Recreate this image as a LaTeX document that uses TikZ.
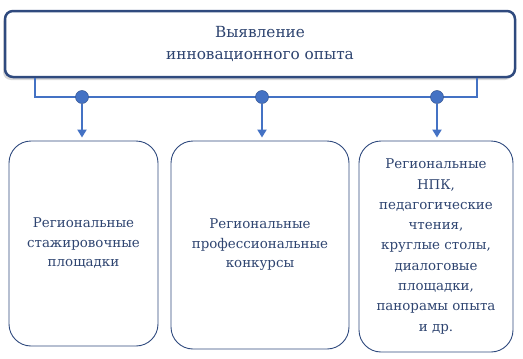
\documentclass[tikz,border=0pt]{standalone}
\usepackage{fontspec}
\setmainfont{DejaVu Serif}
\usetikzlibrary{arrows.meta,calc,shadows}
\definecolor{navy}{HTML}{2F4A7E}
\definecolor{lineblue}{HTML}{4472C4}
\definecolor{txt}{HTML}{2E4470}
\begin{document}
\begin{tikzpicture}[x=1pt,y=-1pt,
  topbox/.style={draw=navy,line width=2.5pt,rounded corners=8pt,fill=white,
    minimum width=510pt,minimum height=66pt,align=center,text=txt,
    font=\fontsize{15.3}{22}\selectfont,
    drop shadow={shadow xshift=-2pt,shadow yshift=-3pt,opacity=0.25,fill=black!60}},
  subbox/.style={draw=navy,line width=0.9pt,rounded corners=22pt,align=center,text=txt,
    font=\fontsize{13.4}{19.5}\selectfont,inner sep=2pt},
  conn/.style={draw=lineblue,line width=2pt},
  dot/.style={circle,fill=lineblue,draw=navy!70!lineblue,line width=0.5pt,inner sep=0pt,minimum size=13pt},
  arr/.style={conn,-{Triangle[width=9pt,length=8pt]}}
]
\useasboundingbox (0,0) rectangle (523,359);
\node[topbox] (top) at (260,44) {Выявление\\инновационного опыта};
\coordinate (bl) at (35,78);
\coordinate (br) at (477,78);
\coordinate (hl) at (35,97);
\coordinate (hr) at (477,97);
\draw[conn] (bl) -- (hl) -- (hr) -- (br);
\node[dot] (d1) at (82,97) {};
\node[dot] (d2) at (262,97) {};
\node[dot] (d3) at (437,97) {};
\node[subbox,minimum width=149pt,minimum height=205pt] (b1) at (83.5,243.5)
  {Региональные\\стажировочные\\площадки};
\node[subbox,minimum width=178pt,minimum height=208pt] (b2) at (260,245)
  {Региональные\\профессиональные\\конкурсы};
\node[subbox,minimum width=154pt,minimum height=211pt,font=\fontsize{13.4}{20.3}\selectfont] (b3) at (436,246.5)
  {Региональные\\НПК,\\педагогические\\чтения,\\круглые столы,\\диалоговые\\площадки,\\панорамы опыта\\и др.};
\draw[arr] (d1) -- ($(d1 |- b1.north)+(0,-3)$);
\draw[arr] (d2) -- ($(d2 |- b2.north)+(0,-3)$);
\draw[arr] (d3) -- ($(d3 |- b3.north)+(0,-3)$);
\end{tikzpicture}
\end{document}
